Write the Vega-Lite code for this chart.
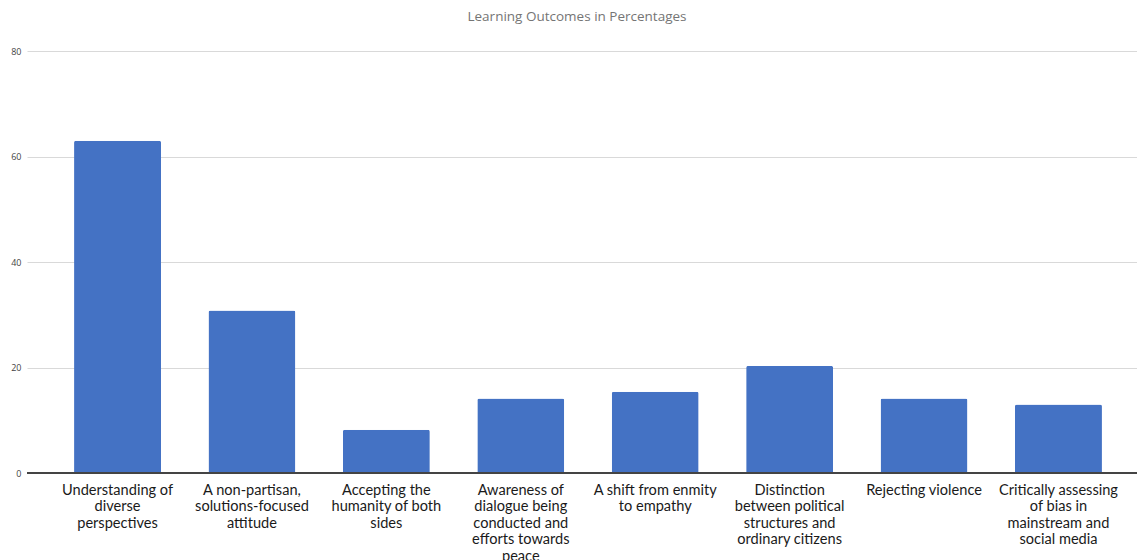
{
  "$schema": "https://vega.github.io/schema/vega-lite/v6.json",
  "width": 1122,
  "height": 422,
  "autosize": {"type": "none"},
  "padding": {"left": 27, "top": 51, "right": 0, "bottom": 87},
  "background": "white",
  "title": {
    "text": "Learning Outcomes in Percentages",
    "font": "Open Sans",
    "fontSize": 13.5,
    "fontWeight": "normal",
    "color": "#757575",
    "anchor": "middle",
    "dx": -11,
    "offset": 24
  },
  "data": {
    "values": [
      {"outcome": "Understanding of\ndiverse\nperspectives", "percent": 63},
      {"outcome": "A non-partisan,\nsolutions-focused\nattitude", "percent": 30.8},
      {"outcome": "Accepting the\nhumanity of both\nsides", "percent": 8.2},
      {"outcome": "Awareness of\ndialogue being\nconducted and\nefforts towards\npeace", "percent": 14.1},
      {"outcome": "A shift from enmity\nto empathy", "percent": 15.4},
      {"outcome": "Distinction\nbetween political\nstructures and\nordinary citizens", "percent": 20.3},
      {"outcome": "Rejecting violence", "percent": 14.1},
      {"outcome": "Critically assessing\nof bias in\nmainstream and\nsocial media", "percent": 13}
    ]
  },
  "encoding": {
    "x": {
      "field": "outcome",
      "type": "nominal",
      "sort": null,
      "scale": {"paddingInner": 0.353, "paddingOuter": 0.35},
      "axis": {
        "title": null,
        "labelAngle": 0,
        "labelExpr": "split(datum.label, '\\n')",
        "labelFont": "Lato",
        "labelFontSize": 14.6,
        "labelColor": "#1a1a1a",
        "labelLineHeight": 16.5,
        "labelPadding": 9,
        "labelLimit": 200,
        "ticks": false,
        "domain": false,
        "grid": false
      }
    },
    "y": {
      "field": "percent",
      "type": "quantitative",
      "scale": {"domain": [0, 80], "nice": false},
      "axis": {
        "title": null,
        "values": [0, 20, 40, 60, 80],
        "labelFont": "Open Sans",
        "labelFontSize": 9,
        "labelColor": "#444444",
        "labelPadding": 6,
        "ticks": false,
        "domain": false,
        "gridColor": "#d9d9d9",
        "gridWidth": 1
      }
    }
  },
  "layer": [
    {"mark": {"type": "bar", "color": "#4472c4", "cornerRadiusTopLeft": 2, "cornerRadiusTopRight": 2}},
    {
      "mark": {"type": "rule", "color": "#444444", "strokeWidth": 1.5},
      "encoding": {"x": {"value": 0}, "x2": {"value": 1122}, "y": {"datum": 0}}
    }
  ],
  "config": {"view": {"stroke": null}}
}
